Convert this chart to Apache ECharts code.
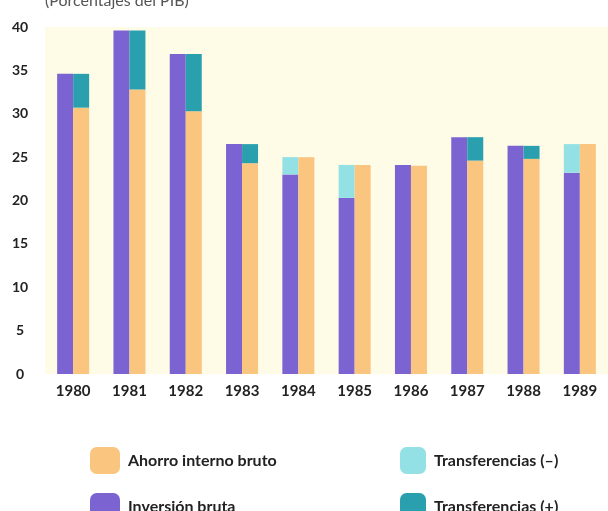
<!DOCTYPE html>
<html>
<head>
<meta charset="utf-8">
<script src="https://cdn.jsdelivr.net/npm/echarts@6/dist/echarts.min.js"></script>
<style>
  html, body { margin: 0; padding: 0; background: #fff; }
  #chart { width: 608px; height: 511px; }
</style>
</head>
<body>
<div id="chart"></div>
<script>
// años
const years = ['1980', '1981', '1982', '1983', '1984', '1985', '1986', '1987', '1988', '1989'];
// % del PIB
const inversion = [34.6, 39.6, 36.9, 26.5, 23.0, 20.3, 24.1, 27.3, 26.3, 23.2];
const ahorro = [30.7, 32.8, 30.3, 24.3, 25.0, 24.1, 24.0, 24.6, 24.8, 26.5];
const transfMas = [3.9, 6.8, 6.6, 2.2, 0, 0, 0, 2.7, 1.5, 0];
const transfMenos = [0, 0, 0, 0, 2.0, 3.8, 0, 0, 0, 3.3];
const yTicks = [0, 5, 10, 15, 20, 25, 30, 35, 40];

const font = 'Lato, "Open Sans", sans-serif';
const legendText = { fontFamily: font, fontSize: 16, fontWeight: 'bold', color: '#222', padding: [0, 0, 0, 3] };

// una leyenda por elemento, en dos columnas
function legendItem(name, left, top, w) {
  return {
    left: left,
    top: top,
    itemWidth: w,
    itemHeight: 27,
    data: [name],
    textStyle: legendText
  };
}

const chart = echarts.init(document.getElementById('chart'));

const option = {
  animation: false,
  title: {
    text: '(Porcentajes del PIB)',
    left: 40,
    top: -12,
    textStyle: { fontFamily: font, fontSize: 16, fontWeight: 'normal', color: '#555' }
  },
  grid: {
    left: 45,
    right: -21,
    top: 27,
    bottom: 137,
    show: true,
    backgroundColor: '#fefbe6',
    borderWidth: 0
  },
  legend: [
    legendItem('Ahorro interno bruto', 85, 442, 30),
    legendItem('Inversión bruta', 85, 488, 30),
    legendItem('Transferencias (–)', 395, 442, 26),
    legendItem('Transferencias (+)', 395, 488, 26)
  ],
  xAxis: {
    type: 'category',
    data: years,
    axisLine: { show: false },
    axisTick: { show: false },
    axisLabel: { margin: 10, fontFamily: font, fontSize: 15, fontWeight: 'bold', color: '#222' }
  },
  yAxis: {
    type: 'value',
    min: yTicks[0],
    max: yTicks[yTicks.length - 1],
    interval: 5,
    splitLine: { show: false },
    axisLine: { show: false },
    axisTick: { show: false },
    axisLabel: { margin: 25, align: 'center', fontFamily: font, fontSize: 14, fontWeight: 'bold', color: '#222' }
  },
  series: [
    {
      name: 'Inversión bruta',
      type: 'bar',
      stack: 'izq',
      barWidth: 16,
      barGap: '0%',
      data: inversion,
      itemStyle: { color: '#7b63d2' }
    },
    {
      name: 'Transferencias (–)',
      type: 'bar',
      stack: 'izq',
      barWidth: 16,
      data: transfMenos,
      itemStyle: { color: '#93e1e4' }
    },
    {
      name: 'Ahorro interno bruto',
      type: 'bar',
      stack: 'der',
      barWidth: 16,
      barGap: '0%',
      data: ahorro,
      itemStyle: { color: '#f9c57f' }
    },
    {
      name: 'Transferencias (+)',
      type: 'bar',
      stack: 'der',
      barWidth: 16,
      data: transfMas,
      itemStyle: { color: '#2aa0ae' }
    }
  ]
};

chart.setOption(option);
</script>
</body>
</html>
